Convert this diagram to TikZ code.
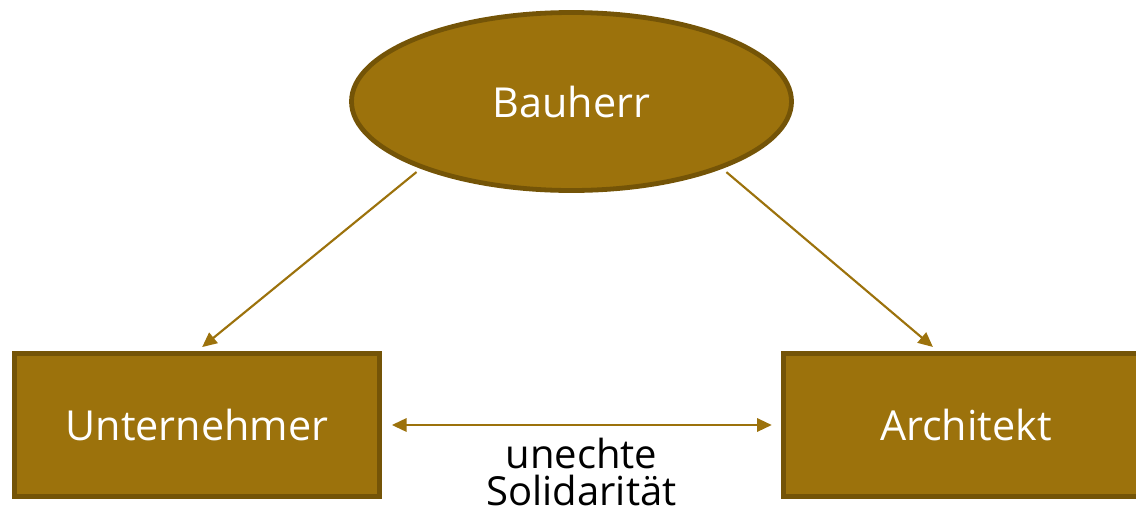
\documentclass[tikz,border=0pt]{standalone}
\usepackage{fontspec}
\setmainfont{Open Sans}
\usetikzlibrary{shapes.geometric,arrows.meta}
\definecolor{gold}{HTML}{9C720C}
\definecolor{golddark}{HTML}{745407}

\begin{document}
\begin{tikzpicture}[x=0.75pt, y=-0.75pt,
    party/.style={draw=golddark, fill=gold, line width=3.6pt, text=white,
                  inner sep=0pt, font=\fontsize{31}{36}\selectfont},
    pfeil/.style={draw=gold, line width=1.6pt,
                  -{Triangle[length=11pt,width=10pt]}}]

   \useasboundingbox (0,0) rectangle (1136,515);

   \node [party, ellipse, minimum width=330pt, minimum height=133.5pt]
      (bau) at (571.5,101.5) {Bauherr};

   \foreach \n/\x/\t in {unt/197/Unternehmer, arch/966/Architekt}
     \node [party, rectangle, minimum width=273.75pt, minimum height=107pt]
        (\n) at (\x,425) {\t};

    \draw [pfeil, shorten <=4pt, shorten >=5pt] (bau.204) -- (unt.north);
    \draw [pfeil, shorten <=4pt, shorten >=5pt] (bau.336) -- ([xshift=-21pt]arch.north);
    \draw [pfeil, {Triangle[length=11pt,width=10pt]}-{Triangle[length=11pt,width=10pt]},
           shorten <=7.5pt, shorten >=7pt]
       (unt.east) -- (arch.west)
       node [midway, below=8pt, inner sep=1pt, align=center, text=black,
             font=\fontsize{30}{28}\selectfont] (soli) {unechte\\Solidarität};

\end{tikzpicture}
\end{document}
